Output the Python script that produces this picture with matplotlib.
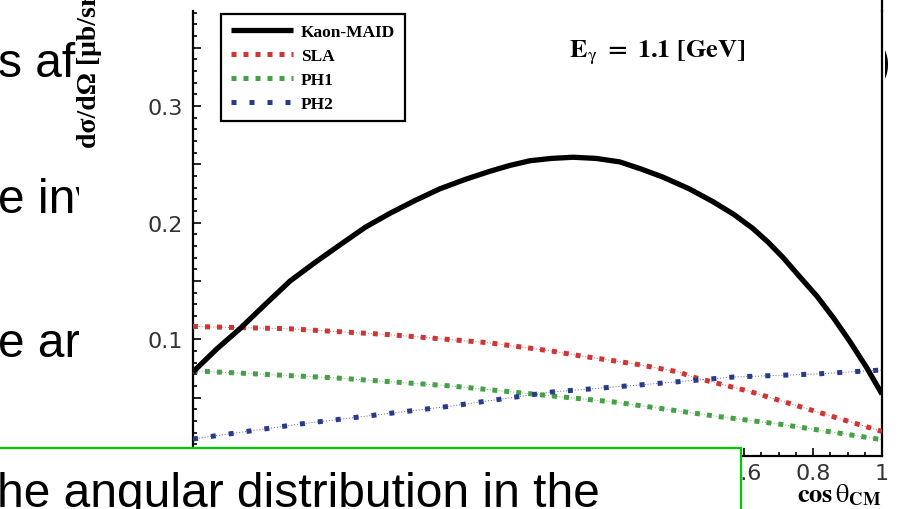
import matplotlib
matplotlib.use('Agg')
import matplotlib.pyplot as plt
from matplotlib.patches import Rectangle
from matplotlib.lines import Line2D
from matplotlib.ticker import MultipleLocator, FuncFormatter
from matplotlib.transforms import Bbox, TransformedBbox

plt.rcParams['mathtext.fontset'] = 'stix'

# ---------------- data ----------------
maid_x = [-1.0, -0.93, -0.864, -0.79, -0.718, -0.645, -0.573, -0.50, -0.428, -0.355,
          -0.283, -0.21, -0.138, -0.08, -0.022, 0.04, 0.103, 0.17, 0.239, 0.30,
          0.364, 0.44, 0.509, 0.57, 0.625, 0.67, 0.713, 0.76, 0.811, 0.86,
          0.907, 0.955, 1.0]
maid_y = [0.072, 0.092, 0.109, 0.130, 0.150, 0.166, 0.181, 0.196, 0.208, 0.219,
          0.229, 0.237, 0.244, 0.249, 0.253, 0.255, 0.256, 0.255, 0.252, 0.246,
          0.239, 0.229, 0.218, 0.207, 0.195, 0.183, 0.170, 0.154, 0.137, 0.118,
          0.098, 0.076, 0.053]

sla_x = [-1.0, -0.72, -0.43, -0.14, 0.04, 0.12, 0.28, 0.41, 0.45, 0.62, 0.81, 1.0]
sla_y = [0.111, 0.109, 0.104, 0.097, 0.090, 0.086, 0.079, 0.072, 0.0677, 0.055, 0.038, 0.021]

ph1_x = [-1.0, -0.59, -0.25, -0.01, 0.23, 0.52, 0.71, 1.0]
ph1_y = [0.073, 0.067, 0.060, 0.053, 0.046, 0.034, 0.027, 0.014]

ph2_x = [-1.0, -0.69, -0.25, 0.04, 0.33, 0.57, 0.81, 1.0]
ph2_y = [0.0146, 0.0274, 0.0428, 0.0548, 0.0617, 0.0677, 0.0703, 0.0737]

series_labels = ['Kaon-MAID', 'SLA', 'PH1', 'PH2']
title_text = r'$\mathbf{E}_{\mathrm{\gamma}}\mathbf{\ =\ 1.1\ [GeV]}$'
ylabel_text = 'dσ/dΩ [μb/sr]'
xlabel_text = r'$\mathbf{cos}\,\mathrm{\theta}_{\mathbf{CM}}$'
slide_lines = ['s af', 'e inv', 'e ar']
caption_text = 'he angular distribution in the'

# ---------------- layout helpers ----------------
W, H = 899, 510
def fx(px):
    return px / W
def fy(py):
    return 1 - py / H

fig = plt.figure(figsize=(W / 100, H / 100), dpi=100)
fig.patch.set_facecolor('white')

# slide text behind the chart picture
for txt, base in zip(slide_lines, [77, 213, 357]):
    fig.text(fx(-2), fy(base), txt, fontsize=34.5, family='Liberation Sans',
             color='black', ha='left', va='baseline', zorder=-3)
paren = fig.text(fx(891), fy(77), ')', fontsize=34.5, family='Liberation Sans',
                 color='black', ha='right', va='baseline', zorder=-3)
paren.set_clip_box(TransformedBbox(Bbox([[fx(885), 0], [1, 1]]), fig.transFigure))
paren.set_clip_on(True)

# white chart picture background
fig.patches.append(Rectangle((fx(79), 0), fx(884) - fx(79), 1, transform=fig.transFigure,
                             facecolor='white', edgecolor='none', zorder=-2))

# ---------------- axes ----------------
ax = fig.add_axes([fx(193), fy(457), fx(882) - fx(193), (457 - 12) / H])
ax.set_xlim(-1, 1)
ax.set_ylim(0, (457 - 12) / 1167)

red = '#d03535'
green = '#46a046'
blue = '#283a8c'

ax.plot(maid_x, maid_y, color='black', lw=3.8, solid_capstyle='butt', solid_joinstyle='round',
        label=series_labels[0], zorder=5)
for xs, ys, c, gap, lab in [(sla_x, sla_y, red, 1.4, series_labels[1]),
                            (ph1_x, ph1_y, green, 1.4, series_labels[2]),
                            (ph2_x, ph2_y, blue, 2.6, series_labels[3])]:
    ax.plot(xs, ys, color=c, lw=0.7, ls=(0, (1, 2)), alpha=0.8, zorder=3)
    ax.plot(xs, ys, color=c, lw=3.6, ls=(0, (1, gap)), dash_capstyle='butt', label=lab, zorder=4)

for s in ['left', 'right', 'bottom']:
    ax.spines[s].set_linewidth(1.6)
ax.spines['top'].set_visible(False)
fig.lines.append(Line2D([fx(882), fx(882)], [fy(12), 1.0], transform=fig.transFigure,
                        color='black', lw=1.6))

ax.xaxis.set_major_locator(MultipleLocator(0.2))
ax.xaxis.set_minor_locator(MultipleLocator(0.05))
ax.yaxis.set_major_locator(MultipleLocator(0.05))
ax.yaxis.set_minor_locator(MultipleLocator(0.01))

def xfmt(v, p):
    if abs(v) < 1e-9:
        return '0'
    return '%g' % round(v, 2)

def yfmt(v, p):
    if abs(v * 10 - round(v * 10)) > 1e-6:
        return ''
    if abs(v) < 1e-9:
        return '0'
    return '%.1f' % v

ax.xaxis.set_major_formatter(FuncFormatter(xfmt))
ax.yaxis.set_major_formatter(FuncFormatter(yfmt))
ax.tick_params(axis='both', which='both', direction='in', top=False, right=False,
               labelsize=16, labelcolor='#333333', width=1.2)
ax.tick_params(axis='x', which='major', length=6, pad=5)
ax.tick_params(axis='x', which='minor', length=3)
ax.tick_params(axis='y', which='major', length=5.5, pad=7)
ax.tick_params(axis='y', which='minor', length=3)
for lbl in ax.get_xticklabels() + ax.get_yticklabels():
    lbl.set_family('DejaVu Sans')

leg = ax.legend(loc='upper left', bbox_to_anchor=(fx(221), fy(15)), bbox_transform=fig.transFigure,
                borderaxespad=0, frameon=True, fancybox=False, framealpha=1,
                prop={'family': 'Liberation Serif', 'weight': 'bold', 'size': 12.5},
                handlelength=3.6, handletextpad=0.45, labelspacing=0.45, borderpad=0.55)
leg.get_frame().set_edgecolor('black')
leg.get_frame().set_linewidth(1.6)

# title inside the plot
fig.text(fx(657), fy(53), title_text, fontsize=19, ha='center', va='center', zorder=6)

# y label (rotated)
fig.text(fx(89), fy(148), ylabel_text, rotation=90, family='Liberation Serif', weight='bold',
         fontsize=20, ha='center', va='bottom', zorder=1)

# x label
fig.text(fx(797), fy(502), xlabel_text, fontsize=19, ha='left', va='baseline', zorder=1)

# green caption box over the chart
fig.patches.append(Rectangle((fx(-5), fy(560)), fx(741) - fx(-5), (560 - 449) / H,
                             transform=fig.transFigure, facecolor='white',
                             edgecolor='#00cc00', lw=1.6, zorder=8))
fig.text(fx(-3), fy(507), caption_text, fontsize=34.5, family='Liberation Sans',
         color='black', ha='left', va='baseline', zorder=9)

fig.savefig('out.png', dpi=100)
